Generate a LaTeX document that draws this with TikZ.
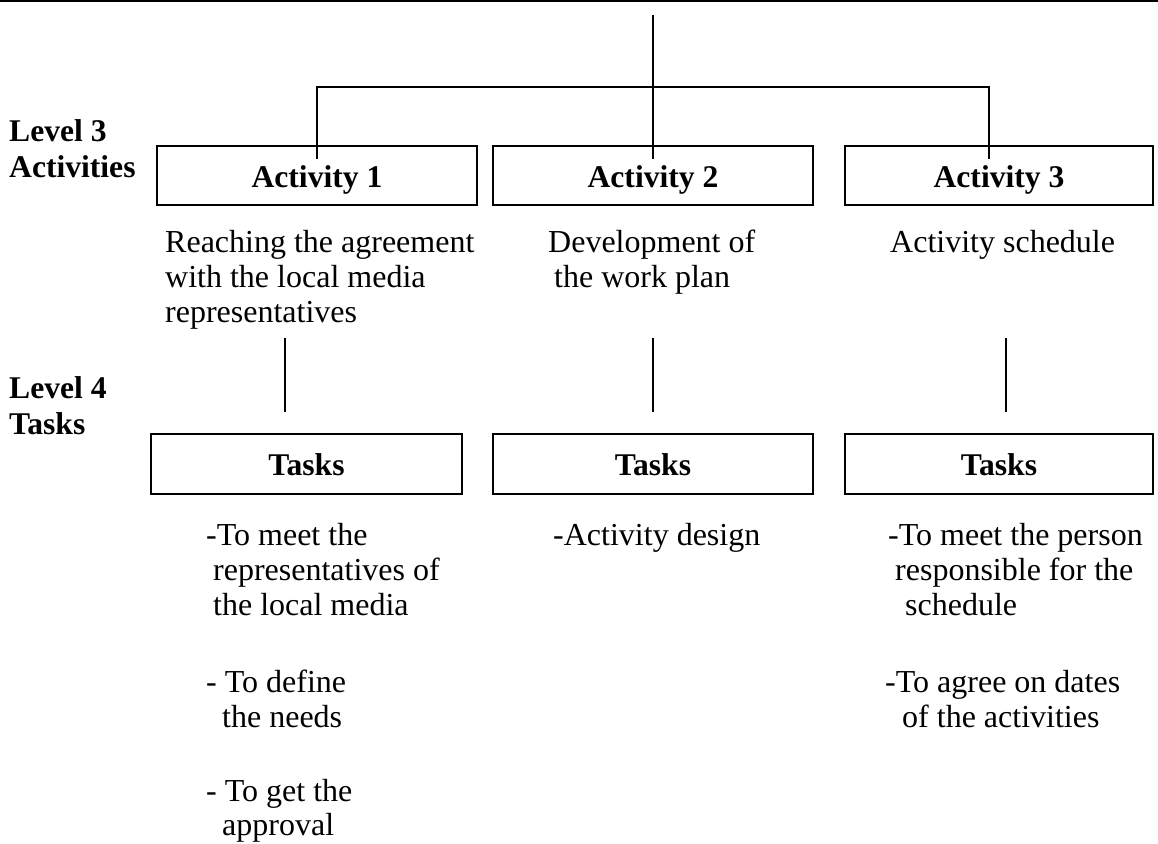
\documentclass[tikz,border=0pt]{standalone}
\usepackage{fontspec}
\setmainfont{Liberation Serif}
\newcommand{\blk}[1]{\parbox[t]{420pt}{\raggedright #1}}
\begin{document}
\begin{tikzpicture}[x=1pt,y=-1pt,
  box/.style={draw,line width=1.6pt,minimum height=59pt,inner sep=0pt,
    text height=23pt,text depth=0pt,font=\fontsize{31.6}{35}\selectfont\bfseries},
  txt/.style={anchor=base west,inner sep=0pt,font=\fontsize{32}{35}\selectfont},
  lvl/.style={anchor=base west,inner sep=0pt,font=\fontsize{31.6}{36}\selectfont\bfseries},
  conn/.style={line width=1.6pt}]
\useasboundingbox (0,0) rectangle (1158,843);
% top rule
\coordinate (rl) at (0,1);
\coordinate (rr) at (1158,1);
\draw[line width=2.2pt] (rl) -- (rr);

% level labels
\node[lvl] (l3) at (9,141) {\blk{Level 3\\Activities}};
\node[lvl] (l4) at (9,398) {\blk{Level 4\\Tasks}};

% activity boxes
\node[box,minimum width=320pt] (a1) at (317,175.5) {Activity 1};
\node[box,minimum width=320pt] (a2) at (653,175.5) {Activity 2};
\node[box,minimum width=308pt] (a3) at (999,175.5) {Activity 3};

% tasks boxes
\node[box,minimum width=311pt,minimum height=60pt] (t1) at (306.5,464) {Tasks};
\node[box,minimum width=320pt,minimum height=60pt] (t2) at (653,464) {Tasks};
\node[box,minimum width=308pt,minimum height=60pt] (t3) at (999,464) {Tasks};

% top connectors
\coordinate (top) at (653,15);
\coordinate (hl) at (317,87);
\coordinate (hr) at (989,87);
\draw[conn] (top) -- ([yshift=-14pt]a2.north);
\draw[conn] ([yshift=-14pt]a1.north) -- (hl) -- (hr) -- ([yshift=-14pt]a3.north -| hr);

% activity descriptions
\node[txt] (d1) at (165,252) {\blk{Reaching the agreement\\with the local media\\representatives}};
\node[txt] (d2) at (548,252) {\blk{Development of\\\hspace*{6pt}the work plan}};
\node[txt] (d3) at (890,252) {\blk{Activity schedule}};

% vertical connectors between descriptions and tasks
\coordinate (v1a) at (285,338); \coordinate (v1b) at (285,412);
\coordinate (v2a) at (653,338); \coordinate (v2b) at (653,412);
\coordinate (v3a) at (1006,338); \coordinate (v3b) at (1006,412);
\draw[conn] (v1a) -- (v1b);
\draw[conn] (v2a) -- (v2b);
\draw[conn] (v3a) -- (v3b);

% task descriptions
\node[txt] (k1a) at (206,545) {\blk{-To meet the\\\hspace*{7pt}representatives of\\\hspace*{7pt}the local media}};
\node[txt] (k1b) at (206,692) {\blk{- To define\\\hspace*{16pt}the needs}};
\node[txt,font=\fontsize{32}{34}\selectfont] (k1c) at (206,801) {\blk{- To get the\\\hspace*{16pt}approval}};
\node[txt] (k2a) at (553,545) {\blk{-Activity design}};
\node[txt] (k3a) at (888,545) {\blk{-To meet the person\\\hspace*{7pt}responsible for the\\\hspace*{17pt}schedule}};
\node[txt] (k3b) at (885,692) {\blk{-To agree on dates\\\hspace*{17pt}of the activities}};
\end{tikzpicture}
\end{document}
